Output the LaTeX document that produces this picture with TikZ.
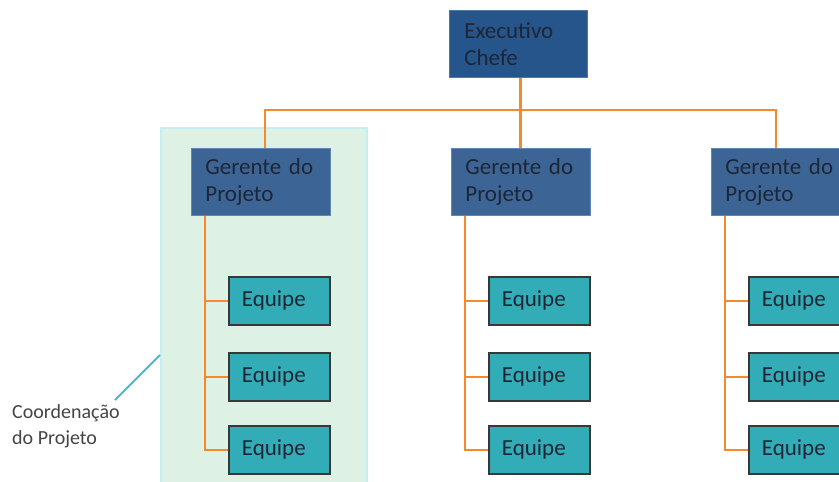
\documentclass[tikz,border=0pt]{standalone}
\usepackage{fontspec}
\setmainfont{Carlito}
\begin{document}
\begin{tikzpicture}[x=1pt,y=-1pt,
  boxtxt/.style={font=\fontsize{23}{27}\selectfont, text=boxtext, align=left, anchor=north west, inner ysep=0pt},
  exec/.style={boxtxt, fill=execblue, draw=execedge, line width=0.8pt, minimum width=138pt, minimum height=67pt, inner xsep=15pt, text width=108pt},
  mgr/.style={boxtxt, fill=mgrblue, draw=mgredge, line width=0.8pt, minimum width=139pt, minimum height=67pt, inner xsep=14pt, text width=111pt},
  team/.style={boxtxt, fill=teamteal, draw=teamedge, line width=1.8pt, minimum width=101pt, minimum height=48pt, inner xsep=13pt, text width=75pt},
  link/.style={draw=linkorange, line width=2.6pt},
  region/.style={fill=regfill, draw=regedge, line width=1.5pt, anchor=north west, minimum width=206pt, minimum height=365pt, inner sep=0pt},
]
\definecolor{boxtext}{HTML}{1E2636}
\definecolor{execblue}{HTML}{25558A}
\definecolor{execedge}{HTML}{4F78A8}
\definecolor{mgrblue}{HTML}{3C6596}
\definecolor{mgredge}{HTML}{5F86B5}
\definecolor{teamteal}{HTML}{32ACB6}
\definecolor{teamedge}{HTML}{383838}
\definecolor{linkorange}{HTML}{F7882B}
\definecolor{regfill}{HTML}{DDF2E5}
\definecolor{regedge}{HTML}{C2EEF6}
\definecolor{ptr}{HTML}{4DB9C7}
\definecolor{lbltext}{HTML}{444444}

\useasboundingbox (0,0) rectangle (839,482);
\clip (0,0) rectangle (839,482);

% highlighted region
\node[region] (reg) at (160,127) {};

% connectors first (boxes drawn on top)
\coordinate (bus) at (520.5,110);
\coordinate (exfoot) at (520.5,77);
\coordinate (g1top) at (265,148);
\coordinate (g2top) at (520.5,148);
\coordinate (g3top) at (776,148);
\draw[link] (exfoot) -- (bus);
\draw[link] (bus) -| (g1top);
\draw[link] (bus) -- (g2top);
\draw[link] (bus) -| (g3top);

% teams
\foreach \g/\x in {1/228,2/488,3/748}{
  \node[team] (e\g1) at (\x,276) {Equipe};
  \node[team] (e\g2) at (\x,352) {Equipe};
  \node[team] (e\g3) at (\x,425) {Equipe};
}

% managers
\node[mgr] (g1) at (191,148) {Gerente do\\Projeto};
\node[mgr] (g2) at (451,148) {Gerente do\\Projeto};
\node[mgr] (g3) at (711,148) {Gerente do\\Projeto};

\foreach \g in {1,2,3}{
  \draw[link] ([xshift=14pt]g\g.south west) |- (e\g3.west);
  \draw[link] ([xshift=14pt]g\g.south west |- e\g1.west) -- (e\g1.west);
  \draw[link] ([xshift=14pt]g\g.south west |- e\g2.west) -- (e\g2.west);
}

% executive
\node[exec] (ex) at (449,10) {Executivo\\Chefe};

% label and pointer
\node[font=\fontsize{20}{26}\selectfont, text=lbltext, align=left, anchor=north west, inner sep=0pt] (lbl) at (12,404) {Coordenação\\do Projeto};
\coordinate (ptrstart) at (115,400);
\coordinate (ptrend) at (160,355);
\draw[ptr, line width=2pt] (ptrstart) -- (ptrend);
\end{tikzpicture}
\end{document}
